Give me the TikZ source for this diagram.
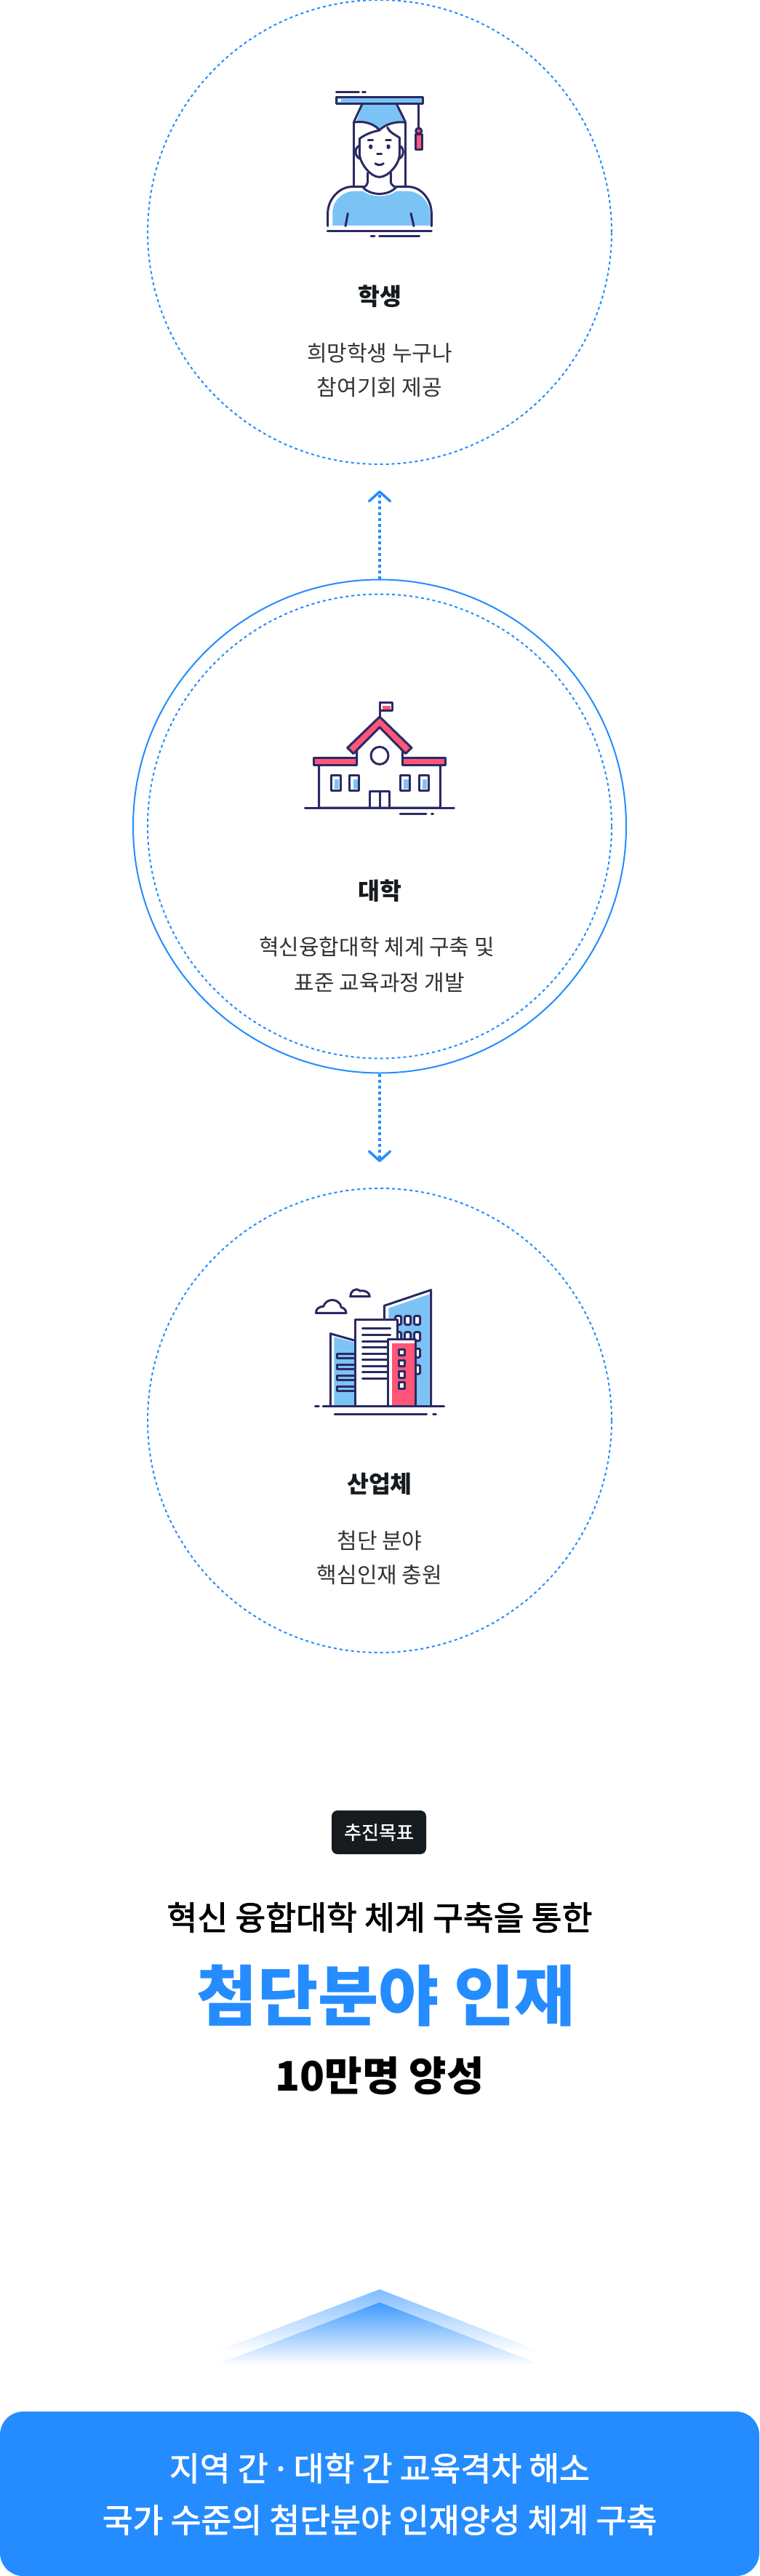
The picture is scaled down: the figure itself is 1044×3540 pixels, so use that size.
\documentclass[tikz,border=0pt]{standalone}
\usepackage{fontspec}
\setmainfont{Noto Sans CJK KR}
\newfontfamily\krmed[FakeBold=0.9]{Noto Sans CJK KR}
\newfontfamily\krlarge[FakeBold=2]{Noto Sans CJK KR}
\usetikzlibrary{arrows.meta}
\definecolor{brand}{HTML}{248CFF}
\definecolor{ink}{HTML}{2B2A63}
\definecolor{sky}{HTML}{7CC3F5}
\definecolor{rose}{HTML}{FF5578}
\definecolor{badge}{HTML}{161B1F}
\definecolor{capcolor}{HTML}{333333}
\tikzset{
  x=1pt,y=-1pt,
  ring/.style={circle,draw=brand,line width=2pt,inner sep=0pt,minimum size=#1},
  dotring/.style={ring=#1,dash pattern=on 4pt off 4pt},
  flow/.style={draw=brand,line width=4pt,dash pattern=on 4pt off 4pt,
    -{Straight Barb[length=13pt,width=29pt,line width=3.5pt,round]}},
  icon/.style={x=0.33333pt,y=-0.33333pt,line width=3pt,draw=ink,line cap=round,line join=round},
  titleline/.style={font=\fontsize{32.5}{38}\selectfont\bfseries,text=badge,inner sep=0pt},
  capline/.style={font=\fontsize{30}{36}\selectfont,text=capcolor,inner sep=0pt},
}
\begin{document}
\begin{tikzpicture}
\useasboundingbox (0,0) rectangle (1044,3540);
\fill[white] (0,0) rectangle (1044,3540);
% circles
\node[dotring=638pt] (c1) at (522,319) {};
\node[ring=678pt] (c2o) at (522,1135.5) {};
\node[dotring=638pt] (c2i) at (522,1135.5) {};
\node[dotring=638pt] (c3) at (522,1952) {};
\coordinate (upTip) at (522,674);
\coordinate (downTip) at (522,1597);
\draw[flow] (c2o.north) -- (upTip);
\draw[flow] (c2o.south) -- (downTip);
% student icon
\begin{scope}[shift={(380pt,-90pt)},icon]
\fill[sky] (232,660) -- (232,600) .. controls (236,550) and (280,518) .. (320,518) -- (358,518) .. controls (390,545) and (460,545) .. (495,518) -- (540,518) .. controls (590,518) and (632,560) .. (635,610) -- (635,660) -- cycle;
\fill[sky] (357,160) -- (330,232) .. controls (370,228) and (410,245) .. (426,260) .. controls (445,240) and (490,228) .. (528,232) -- (495,157) -- cycle;
\draw[fill=sky] (247,131) rectangle (603,157);
\fill[white] (254,138) rectangle (266,150);
\draw (247,109) -- (340,109) (355,109) -- (367,109);
\draw (355,157) -- (320,232) (495,157) -- (532,232);
\draw (318,235) .. controls (365,225) and (410,245) .. (425,267) .. controls (445,245) and (490,228) .. (533,235);
\draw (318,235) -- (318,497) (533,235) -- (533,497);
\draw (425,267) .. controls (390,275) and (365,285) .. (343,302);
\draw (458,255) .. controls (465,275) and (490,285) .. (508,298);
\draw (343,302) -- (343,370) .. controls (350,410) and (390,460) .. (425,460) .. controls (460,460) and (505,410) .. (508,370) -- (508,298);
\draw (340,332) .. controls (322,340) and (322,375) .. (345,385);
\draw (510,332) .. controls (528,340) and (528,375) .. (505,385);
\fill[ink] (389,335) ellipse [x radius=8,y radius=10];
\fill[ink] (462,335) ellipse [x radius=8,y radius=10];
\draw (378,307) -- (398,307) (452,307) -- (472,307) (416,366) -- (434,366);
\draw (408,404) .. controls (418,412) and (432,412) .. (442,404);
\draw (377,442) -- (377,480) .. controls (377,490) and (370,497) .. (358,503);
\draw (472,442) -- (472,480) .. controls (472,490) and (482,497) .. (493,503);
\draw (358,503) .. controls (390,538) and (460,538) .. (493,503);
\draw (212,662) -- (212,605) .. controls (215,545) and (265,500) .. (310,500) -- (358,500);
\draw (493,500) -- (545,500) .. controls (595,500) and (640,550) .. (640,610) -- (640,662);
\draw (295,610) -- (285,662) (555,610) -- (567,662);
\draw (210,682) -- (640,682) (390,705) -- (405,705) (425,705) -- (590,705);
\draw (587,157) -- (587,258);
\draw[fill=rose] (575,285) rectangle (600,348);
\draw[fill=rose] (587,270) circle [radius=12];
\end{scope}
% university icon
\begin{scope}[shift={(380pt,-940pt)},icon]
\draw (426,75) -- (426,135);
\draw[fill=white] (426,75) rectangle (478,110);
\fill[rose] (438,90) rectangle (472,105);
\draw[fill=white] (332,262) -- (426,178) -- (520,262) -- (520,333) -- (676,333) -- (676,510) -- (176,510) -- (176,333) -- (332,333) -- cycle;
\draw[fill=rose] (426,135) -- (558,263) -- (533,287) -- (426,178) -- (318,287) -- (293,263) -- cycle;
\draw[fill=rose] (155,303) rectangle (332,333);
\draw[fill=rose] (520,303) rectangle (698,333);
\draw (426,295) circle [radius=36];
\foreach \wx in {225,302,511,588}{
  \fill[sky] (\wx+15,393) rectangle (\wx+34,433);
  \draw (\wx,377) rectangle (\wx+39,440);
}
\draw (386,510) -- (386,443) -- (466,443) -- (466,510) (426,443) -- (426,510);
\draw (118,510) -- (733,510) (510,534) -- (618,534) (640,534) -- (647,534);
\end{scope}
% industry icon
\begin{scope}[shift={(400pt,-1750pt)},icon]
\fill[sky] (178,262) -- (265,285) -- (265,545) -- (178,545) -- cycle;
\draw (163,548) -- (163,248) -- (265,277);
\foreach \by in {330,375,420,465}{
  \draw (265,\by) -- (190,\by) -- (190,\by+20) -- (265,\by+20);
}
\fill[sky] (403,143) -- (572,85) -- (572,545) -- (403,545) -- cycle;
\draw (385,190) -- (385,133) -- (578,68) -- (578,548);
\foreach \wy in {193,260,328,396}{
  \foreach \wx in {443,482,521}{
    \draw[fill=white,rounded corners=1.5pt] (\wx-12,\wy-18) rectangle (\wx+12,\wy+18);
  }
}
\draw[fill=white] (265,190) rectangle (438,548);
\foreach \ly in {227,253,279,305,330,356,382,407,433}{
  \draw (295,\ly) -- (410,\ly);
}
\draw[fill=white] (400,270) rectangle (513,548);
\fill[rose] (416,288) rectangle (510,545);
\foreach \sy in {325,370,416,462}{
  \draw[fill=white] (444,\sy-13) rectangle (470,\sy+13);
}
\draw (100,548) -- (115,548) (132,548) -- (632,548) (180,579) -- (560,579) (587,579) -- (598,579);
\draw (103,163) .. controls (103,145) and (118,136) .. (134,136) .. controls (145,100) and (200,100) .. (208,140) .. controls (220,142) and (228,152) .. (228,163) -- cycle;
\draw (245,95) .. controls (245,75) and (265,55) .. (285,72) .. controls (305,68) and (325,78) .. (325,95) -- cycle;
\end{scope}
% captions
\node[titleline] (t1) at (522,407) {학생};
\node[capline] (s1a) at (522,485) {희망학생 누구나};
\node[capline] (s1b) at (522,532) {참여기회 제공};
\node[titleline] (t2) at (522,1224) {대학};
\node[capline] (s2a) at (518,1301) {혁신융합대학 체계 구축 및};
\node[capline] (s2b) at (522,1350) {표준 교육과정 개발};
\node[titleline] (t3) at (522,2039.5) {산업체};
\node[capline] (s3a) at (522,2117) {첨단 분야};
\node[capline] (s3b) at (522,2164.5) {핵심인재 충원};
% goal
\node[fill=badge,rounded corners=8pt,minimum width=130pt,minimum height=60pt,inner sep=0pt,text=white,font=\fontsize{26}{30}\selectfont\krmed] (goal) at (521,2518) {추진목표};
\node[inner sep=0pt,font=\fontsize{45.5}{50}\selectfont\krlarge] (g1) at (522,2635) {혁신 융합대학 체계 구축을 통한};
\node[inner sep=0pt,text=brand,font=\fontsize{90.5}{100}\selectfont\bfseries] (g2) at (531,2742) {첨단분야 인재};
\node[inner sep=0pt,font=\fontsize{56}{60}\selectfont\bfseries] (g3) at (522,2853) {10만명 양성};
% chevrons
\shade[top color=brand!58,bottom color=white] (522,3146) -- (745,3232) -- (296,3232) -- cycle;
\shade[top color=brand!88,bottom color=white] (522,3164) -- (745,3250) -- (296,3250) -- cycle;
% banner
\node[fill=brand,rounded corners=32pt,minimum width=1044pt,minimum height=226pt,inner sep=0pt] (banner) at (522,3427) {};
\node[inner sep=0pt,text=white,font=\fontsize{45.5}{50}\selectfont\krlarge] (b1) at (522,3392) {지역 간\hspace{-0.12em} · \hspace{-0.12em}대학 간 교육격차 해소};
\node[inner sep=0pt,text=white,font=\fontsize{45.5}{50}\selectfont\krlarge] (b2) at (522,3463) {국가 수준의 첨단분야 인재양성 체계 구축};
\end{tikzpicture}
\end{document}
